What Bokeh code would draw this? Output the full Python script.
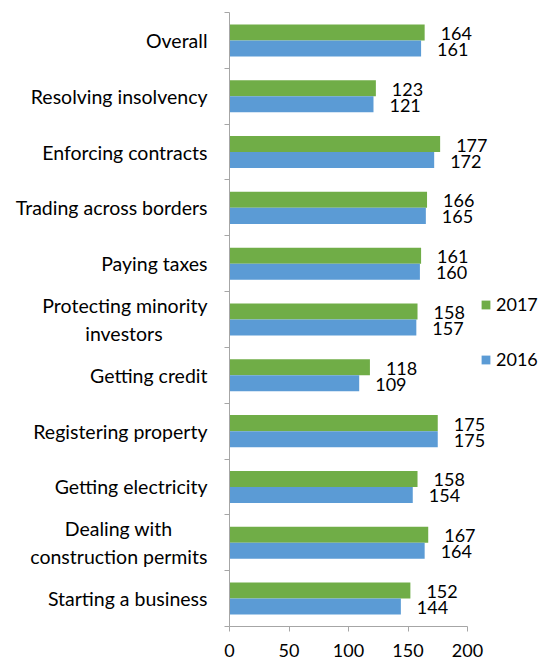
from bokeh.plotting import figure
from bokeh.models import (Range1d, ColumnDataSource, LinearAxis, FixedTicker, Legend, LegendItem)
from bokeh.core.properties import value
from bokeh.embed import file_html
from bokeh.resources import INLINE

NB = "\u00a0"
categories = ["Overall", "Resolving insolvency", "Enforcing contracts", "Trading across borders",
              "Paying taxes", "Protecting minority\ninvestors" + NB * 9, "Getting credit",
              "Registering property", "Getting electricity",
              "Dealing with" + NB * 7 + "\nconstruction permits", "Starting a business"]
values_2017 = [164, 123, 177, 166, 161, 158, 118, 175, 158, 167, 152]
values_2016 = [161, 121, 172, 165, 160, 157, 109, 175, 154, 164, 144]
x_ticks = [0, 50, 100, 150, 200]
x_max = 200

FONT = "Lato"
GREEN = "#70AD47"
BLUE = "#5B9BD5"
AXIS = "#A6A6A6"

n = len(categories)
centers = [n - 0.5 - i for i in range(n)]   # first category at the top
bh = 0.287
off = 0.1435

src = ColumnDataSource(dict(cat=categories, y17=[c + off for c in centers],
                            y16=[c - off for c in centers],
                            v17=values_2017, v16=values_2016,
                            t17=[str(v) for v in values_2017], t16=[str(v) for v in values_2016]))

axis_px = 238          # pixels spanned by 0..200
frame_w = 311          # frame extends to the right to host labels and legend
p = figure(y_range=Range1d(0, n), x_range=Range1d(0, x_max * frame_w / axis_px),
           frame_width=frame_w, frame_height=614,
           min_border_left=229, min_border_right=0, min_border_top=12, min_border_bottom=34,
           y_axis_location=None, output_backend="svg", toolbar_location=None)
p.outline_line_color = None
p.grid.visible = False
p.background_fill_color = "white"

r17 = p.hbar(y="y17", right="v17", height=bh, left=0, source=src, color=GREEN, line_color=None)
r16 = p.hbar(y="y16", right="v16", height=bh, left=0, source=src, color=BLUE, line_color=None)

p.text(x="v17", y="y17", text="t17", source=src,
       x_offset=16, y_offset=1, text_baseline="middle", text_align="left",
       text_font=value(FONT), text_font_size="18px", text_color="black")
p.text(x="v16", y="y16", text="t16", source=src,
       x_offset=16, y_offset=1, text_baseline="middle", text_align="left",
       text_font=value(FONT), text_font_size="18px", text_color="black")

# x axis
xa = p.xaxis[0]
xa.bounds = (0, x_max)
xa.ticker = FixedTicker(ticks=x_ticks)
xa.axis_line_color = AXIS
xa.major_tick_line_color = AXIS
xa.major_tick_in = 0
xa.major_tick_out = 5
xa.minor_tick_line_color = None
xa.major_label_text_font = FONT
xa.major_label_text_font_size = "18px"
xa.major_label_text_color = "black"
xa.major_label_standoff = 12

# y axis: ticks at category boundaries (inner), labels at category centres (outer)
bounds = list(range(n + 1))
tick_ax = LinearAxis(ticker=FixedTicker(ticks=bounds),
                     major_label_overrides={b: "" for b in bounds},
                     major_label_standoff=0, major_tick_in=0, major_tick_out=5,
                     minor_tick_line_color=None, axis_line_color=AXIS,
                     major_tick_line_color=AXIS, major_label_text_font_size="1px")
p.add_layout(tick_ax, "left")
lab_ax = LinearAxis(ticker=FixedTicker(ticks=centers),
                    major_label_overrides={c: cat for c, cat in zip(centers, categories)},
                    axis_line_color=None, major_tick_line_color=None, minor_tick_line_color=None,
                    major_label_standoff=11, major_label_text_font=FONT,
                    major_label_text_font_size="19.5px", major_label_text_color="black")
p.add_layout(lab_ax, "left")

legend = Legend(items=[LegendItem(label="2017", renderers=[r17]),
                       LegendItem(label="2016", renderers=[r16])],
                location=(251, 256), orientation="vertical",
                glyph_width=11, glyph_height=11, spacing=33, label_height=22,
                label_text_font=FONT, label_text_font_size="18px", label_text_color="black",
                border_line_color=None, background_fill_alpha=0, padding=0, margin=0,
                label_standoff=5)
p.add_layout(legend)

open("out.html", "w").write(file_html(p, INLINE))
